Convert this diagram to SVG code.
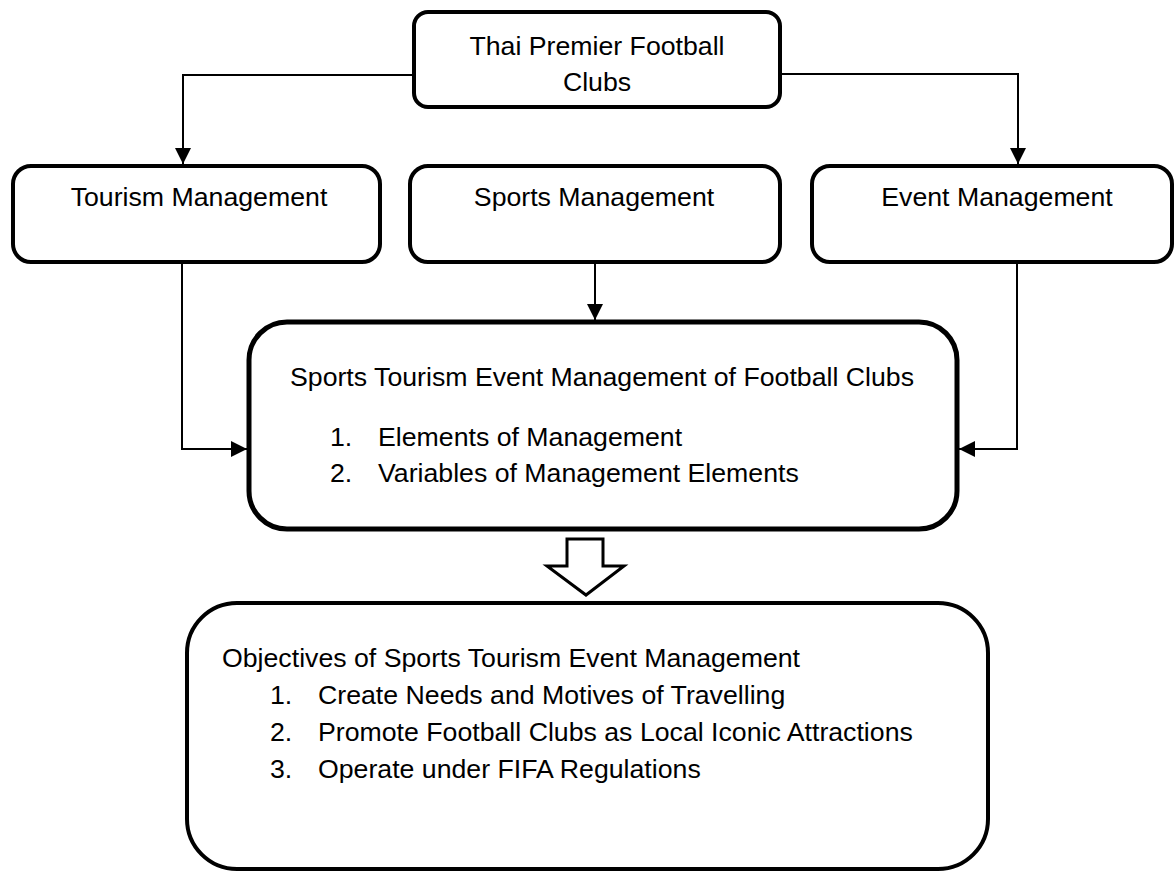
<svg xmlns="http://www.w3.org/2000/svg" width="1174" height="872" viewBox="0 0 1174 872">
<style>
.box{fill:#fff;stroke:#000;stroke-width:4}
.t{font-family:"Liberation Sans",Arial,sans-serif;font-size:26.7px;fill:#000}
.c{text-anchor:middle}
.ln{fill:none;stroke:#000;stroke-width:2}
</style>
<defs>
<marker id="ah" markerUnits="userSpaceOnUse" markerWidth="18" markerHeight="18" viewBox="0 0 18 18" refX="16" refY="9" orient="auto">
<path d="M0,1 L16,9 L0,17 Z" fill="#000"/>
</marker>
</defs>
<rect width="1174" height="872" fill="#fff"/>
<g id="connectors">
<path class="ln" d="M414,75 H183 V164" marker-end="url(#ah)"/>
<path class="ln" d="M780,74 H1018 V164" marker-end="url(#ah)"/>
<path class="ln" d="M595,262 V320" marker-end="url(#ah)"/>
<path class="ln" d="M182,262 V449 H247" marker-end="url(#ah)"/>
<path class="ln" d="M1017,262 V449 H959" marker-end="url(#ah)"/>
<polygon points="567,539 603,539 603,566 624,566 586,595 547,566 567,566" fill="#fff" stroke="#000" stroke-width="3"/>
</g>
<g id="top">
<rect class="box" x="414" y="12" width="366" height="95" rx="14"/>
<text class="t c" x="597" y="55">Thai Premier Football</text>
<text class="t c" x="597" y="91">Clubs</text>
</g>
<g id="tourism">
<rect class="box" x="13" y="166" width="367" height="96" rx="18"/>
<text class="t c" x="199" y="206">Tourism Management</text>
</g>
<g id="sports">
<rect class="box" x="410" y="166" width="370" height="96" rx="18"/>
<text class="t c" x="594" y="206">Sports Management</text>
</g>
<g id="event">
<rect class="box" x="812" y="166" width="360" height="96" rx="18"/>
<text class="t c" x="997" y="206">Event Management</text>
</g>
<g id="main">
<rect class="box" x="249" y="322" width="708" height="207" rx="38" style="stroke-width:5"/>
<text class="t" x="290" y="386">Sports Tourism Event Management of Football Clubs</text>
<text class="t" x="330" y="446">1.</text>
<text class="t" x="378" y="446">Elements of Management</text>
<text class="t" x="330" y="482">2.</text>
<text class="t" x="378" y="482">Variables of Management Elements</text>
</g>
<g id="objectives">
<rect class="box" x="187" y="603" width="801" height="266" rx="50"/>
<text class="t" x="222" y="667">Objectives of Sports Tourism Event Management</text>
<text class="t" x="270" y="704">1.</text>
<text class="t" x="318" y="704">Create Needs and Motives of Travelling</text>
<text class="t" x="270" y="741">2.</text>
<text class="t" x="318" y="741">Promote Football Clubs as Local Iconic Attractions</text>
<text class="t" x="270" y="778">3.</text>
<text class="t" x="318" y="778">Operate under FIFA Regulations</text>
</g>
</svg>
